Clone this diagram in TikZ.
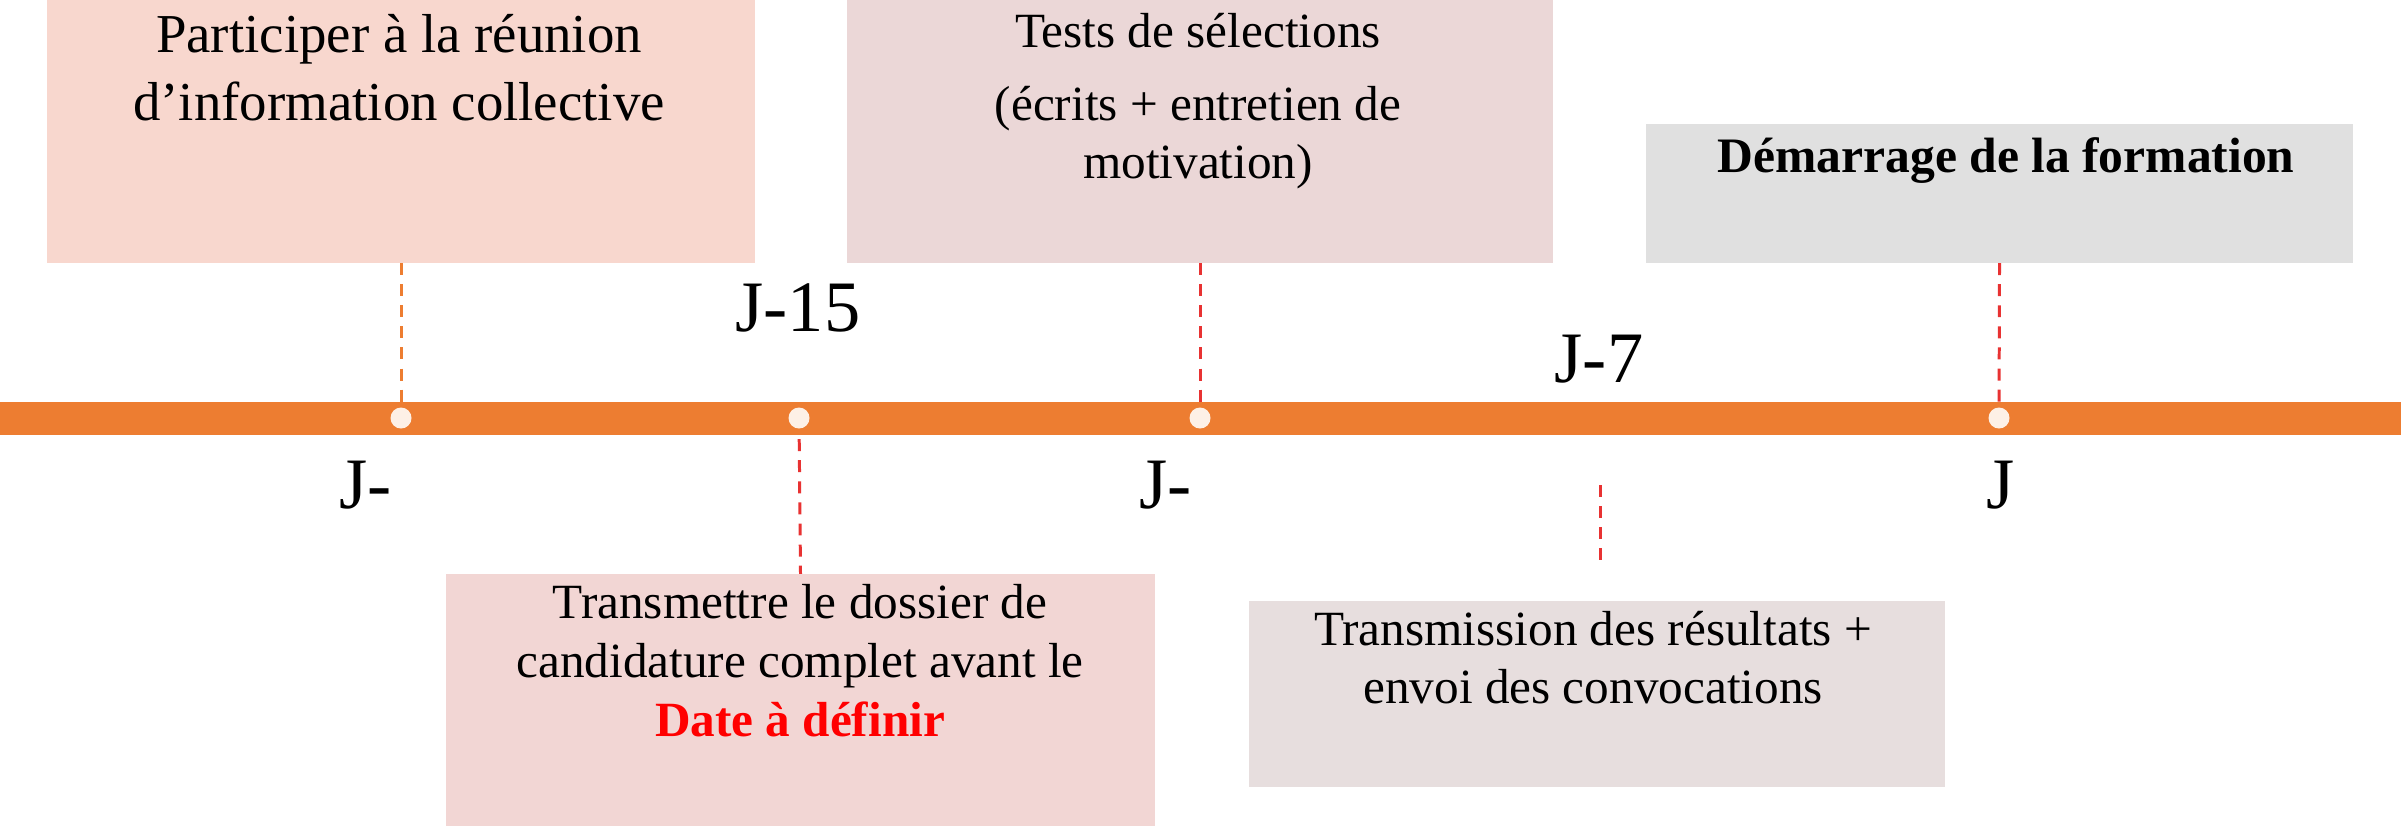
\documentclass[tikz,border=0pt]{standalone}
\usepackage{fontspec}
\setmainfont{Liberation Serif}
\definecolor{barorange}{HTML}{ED7D31}
\definecolor{dotcream}{HTML}{FDF0E6}
\definecolor{boxA}{HTML}{F8D7CE}
\definecolor{boxB}{HTML}{EBD7D7}
\definecolor{boxC}{HTML}{E0E0E0}
\definecolor{boxD}{HTML}{F2D6D4}
\definecolor{boxE}{HTML}{E7DEDE}
\definecolor{dashred}{HTML}{E83232}
\definecolor{datered}{HTML}{FF0000}
\begin{document}
\begin{tikzpicture}[x=0.01cm,y=-0.01cm,
  panel/.style={draw=none,inner sep=0,outer sep=0,rectangle},
  txt/.style={inner sep=0,outer sep=0,anchor=base},
  lab/.style={inner sep=0,outer sep=0,font=\fontsize{20.6}{24}\selectfont},
  tdot/.style={circle,fill=dotcream,draw=none,inner sep=0,minimum size=0.21cm},
  odash/.style={draw=barorange,line width=0.85pt,dash pattern=on 3.4pt off 2.6pt},
  rdash/.style={draw=dashred,line width=0.85pt,dash pattern=on 3.4pt off 2.6pt}]
\useasboundingbox (0,0) rectangle (2401,826);
% panels
\node[panel,fill=boxA,minimum width=7.08cm,minimum height=2.63cm] (b1) at (401,131.5) {};
\node[panel,fill=boxB,minimum width=7.06cm,minimum height=2.63cm] (b2) at (1200,131.5) {};
\node[panel,fill=boxC,minimum width=7.07cm,minimum height=1.39cm] (b3) at (1999.5,193.5) {};
\node[panel,fill=boxD,minimum width=7.09cm,minimum height=2.52cm] (b4) at (800.5,700) {};
\node[panel,fill=boxE,minimum width=6.96cm,minimum height=1.86cm] (b5) at (1597,694) {};
% dots positions (drawn later)
\coordinate (p1) at (401,418);
\coordinate (p2) at (799,418);
\coordinate (p3) at (1200,418);
\coordinate (p5) at (1999,418);
\coordinate (c7a) at (1600,485);
\coordinate (c7b) at (1600,560);
% connectors
\draw[odash] (b1.south) -- (p1);
\draw[rdash] (p2) -- (b4.north);
\draw[rdash] (b2.south) -- (p3);
\draw[rdash] (c7a) -- (c7b);
\draw[rdash] (b3.south) -- (p5);
% timeline bar
\node[panel,fill=barorange,minimum width=24.01cm,minimum height=0.33cm] (bar) at (1200.5,418.5) {};
\node[tdot] (d1) at (p1) {};
\node[tdot] (d2) at (p2) {};
\node[tdot] (d3) at (p3) {};
\node[tdot] (d5) at (p5) {};
% texts
\node[txt] (t1) at (399,52) {\fontsize{15.6}{19.4}\selectfont\begin{tabular}[t]{@{}c@{}}Participer à la réunion\\ d’information collective\end{tabular}};
\node[txt] (t2) at (1198,47) {\fontsize{14}{16.5}\selectfont\begin{tabular}[t]{@{}c@{}}Tests de sélections\\[4.3pt] (écrits + entretien de\\ motivation)\end{tabular}};
\node[txt] (t3) at (2006,172) {\fontsize{14.1}{17}\selectfont\bfseries Démarrage de la formation};
\node[txt] (t4) at (800,618) {\fontsize{14}{16.9}\selectfont\begin{tabular}[t]{@{}c@{}}Transmettre le dossier de\\ candidature complet avant le\\ \textcolor{datered}{\bfseries Date à définir}\end{tabular}};
\node[txt] (t5) at (1593,645) {\fontsize{14}{16.5}\selectfont\begin{tabular}[t]{@{}c@{}}Transmission des résultats +\\ envoi des convocations\end{tabular}};
% labels
\node[lab,anchor=base west] (l1) at (339,508) {J-};
\node[lab,anchor=base] (l2) at (798,331) {J-15};
\node[lab,anchor=base west] (l3) at (1139,508) {J-};
\node[lab,anchor=base] (l4) at (1599,382) {J-7};
\node[lab,anchor=base] (l5) at (2001,508) {J};
\end{tikzpicture}
\end{document}
